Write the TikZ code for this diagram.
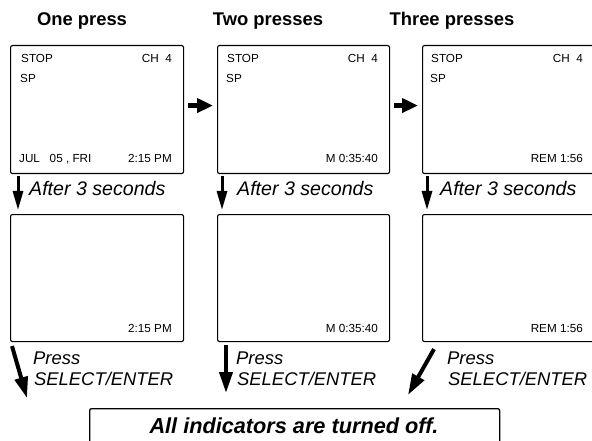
\documentclass[tikz,border=0pt]{standalone}
\usepackage{fontspec}
\setmainfont{Liberation Sans}
\usetikzlibrary{arrows.meta}
\begin{document}
\begin{tikzpicture}[x=1pt,y=-1pt,
  screen/.style={draw, line width=1.1pt, rounded corners=2pt, anchor=north west, inner sep=0pt, minimum height=128pt},
  lcd/.style={inner sep=0pt, font=\fontsize{11.7}{13}\selectfont},
  head/.style={inner sep=0pt, anchor=base, font=\fontsize{18.4}{21}\selectfont\bfseries},
  note/.style={inner sep=0pt, anchor=base west, font=\fontsize{19.6}{22}\selectfont\itshape},
  press/.style={inner sep=0pt, anchor=base west, font=\fontsize{18.4}{21.5}\selectfont\itshape},
  harrow/.style={line width=5pt, -{Triangle[length=16pt,width=14pt]}},
  varrow/.style={line width=3pt, -{Triangle[length=19pt,width=10pt]}},
  barrow/.style={line width=4pt, -{Triangle[length=21pt,width=13pt]}}
]
\useasboundingbox (0,0) rectangle (592,441);
\clip (0,0) rectangle (592,441);

% headers
\node[head] (h1) at (82,26) {One press};
\node[head] (h2) at (268,26) {Two presses};
\node[head] (h3) at (452,26) {Three presses};

% top screens
\node[screen, minimum width=173pt] (b1) at (10,45) {};
\node[screen, minimum width=172pt] (b2) at (217,45) {};
\node[screen, minimum width=174pt] (b3) at (422,45) {};

\node[lcd, anchor=base west] (b1a) at (21,63) {STOP};
\node[lcd, anchor=base east] (b1b) at (172,63) {CH\ \ 4};
\node[lcd, anchor=base west] (b1c) at (20,83) {SP};
\node[lcd, anchor=base west] (b1d) at (19,163) {JUL\ \ \ 05 , FRI};
\node[lcd, anchor=base east] (b1e) at (172,163) {2:15 PM};

\node[lcd, anchor=base west] (b2a) at (227,63) {STOP};
\node[lcd, anchor=base east] (b2b) at (378,63) {CH\ \ 4};
\node[lcd, anchor=base west] (b2c) at (226,83) {SP};
\node[lcd, anchor=base east] (b2e) at (378,163) {M 0:35:40};

\node[lcd, anchor=base west] (b3a) at (431,63) {STOP};
\node[lcd, anchor=base east] (b3b) at (583,63) {CH\ \ 4};
\node[lcd, anchor=base west] (b3c) at (430,83) {SP};
\node[lcd, anchor=base east] (b3e) at (583,163) {REM 1:56};

% bottom screens
\node[screen, minimum width=173pt, minimum height=127pt] (c1) at (10,214) {};
\node[screen, minimum width=172pt, minimum height=127pt] (c2) at (217,214) {};
\node[screen, minimum width=174pt, minimum height=127pt] (c3) at (422,214) {};

\node[lcd, anchor=base east] (c1e) at (172,332) {2:15 PM};
\node[lcd, anchor=base east] (c2e) at (378,332) {M 0:35:40};
\node[lcd, anchor=base east] (c3e) at (583,332) {REM 1:56};

% final box
\node[draw, line width=1.3pt, rounded corners=2pt, anchor=north west, inner sep=0pt,
      minimum width=410pt, minimum height=50pt] (fin) at (89,408) {};
\node[inner sep=0pt, anchor=base, font=\fontsize{21.7}{24}\selectfont\bfseries\itshape] (fint) at (294,433) {All indicators are turned off.};

% horizontal arrows
\draw[harrow] ([xshift=4pt,yshift=4pt]b1.east) -- ([xshift=-4pt,yshift=4pt]b2.west);
\draw[harrow] ([xshift=4pt,yshift=4pt]b2.east) -- ([xshift=-4pt,yshift=4pt]b3.west);

% after 3 seconds
\draw[varrow] ([xshift=8pt,yshift=-2pt]b1.south west) -- ([xshift=8pt,yshift=4pt]c1.north west);
\draw[varrow] ([xshift=5pt,yshift=-2pt]b2.south west) -- ([xshift=5pt,yshift=4pt]c2.north west);
\draw[varrow] ([xshift=5pt,yshift=-2pt]b3.south west) -- ([xshift=5pt,yshift=4pt]c3.north west);
\node[note] (n1) at (29,196) {After 3 seconds};
\node[note] (n2) at (237,196) {After 3 seconds};
\node[note] (n3) at (440,196) {After 3 seconds};

% press select/enter
\draw[barrow] ([xshift=2pt,yshift=-4pt]c1.south west) -- ([xshift=-62pt,yshift=10pt]fin.north west);
\draw[barrow] ([xshift=9pt,yshift=-3pt]c2.south west) -- ([xshift=137pt,yshift=15pt]fin.north west);
\draw[barrow] ([xshift=12pt,yshift=-7pt]c3.south west) -- ([xshift=319pt,yshift=13pt]fin.north west);
\node[press] (p1) at (33,364) {Press};
\node[press] (s1) at (34,385) {SELECT/ENTER};
\node[press] (p2) at (236,364) {Press};
\node[press] (s2) at (237,385) {SELECT/ENTER};
\node[press] (p3) at (447,364) {Press};
\node[press] (s3) at (448,385) {SELECT/ENTER};
\end{tikzpicture}
\end{document}
